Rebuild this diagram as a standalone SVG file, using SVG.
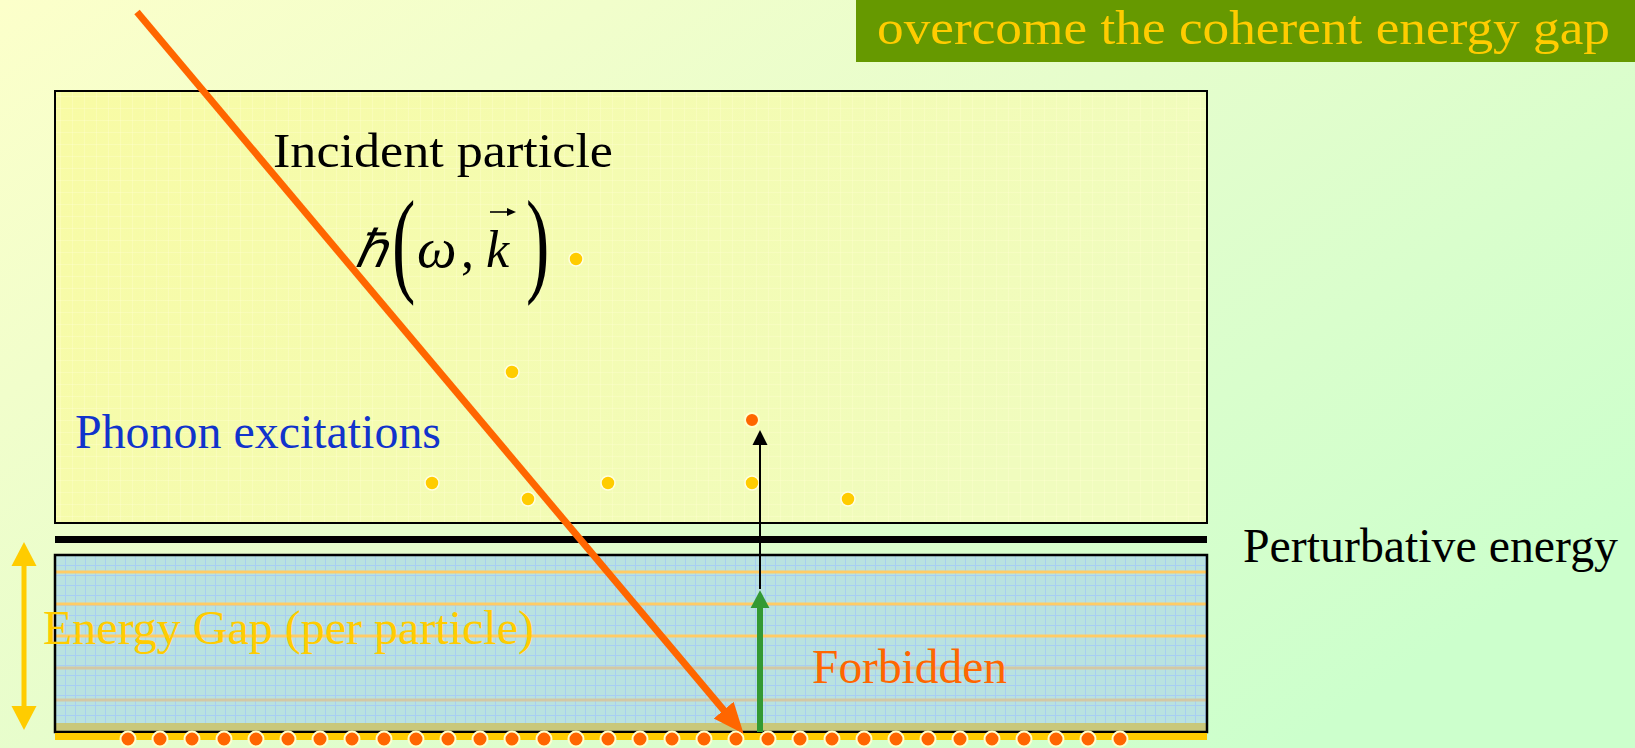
<svg xmlns="http://www.w3.org/2000/svg" width="1635" height="748" viewBox="0 0 1635 748">
<defs>
<linearGradient id="bg" x1="0" y1="0" x2="1" y2="0.7">
<stop offset="0" stop-color="#FCFFCA"/>
<stop offset="0.5" stop-color="#E6FDCC"/>
<stop offset="1" stop-color="#CCFFCC"/>
</linearGradient>
<linearGradient id="topfill" x1="0" y1="0" x2="1" y2="0.3">
<stop offset="0" stop-color="#F8FBA4"/>
<stop offset="1" stop-color="#F0FCBE"/>
</linearGradient>
<pattern id="ygrid" width="12" height="12" patternUnits="userSpaceOnUse">
<path d="M0 0.5H12M0.5 0V12" fill="none" stroke="#FFFFD0" stroke-width="1" opacity="0.35"/>
</pattern>
<pattern id="bgrid" x="55" y="555" width="10" height="10" patternUnits="userSpaceOnUse">
<rect width="10" height="10" fill="#B9E2E0"/>
<path d="M0 0.5H10M0.5 0V10" fill="none" stroke="#A8CEF2" stroke-width="1"/>
</pattern>
<marker id="orangeHead" markerUnits="userSpaceOnUse" markerWidth="32" markerHeight="28" refX="10" refY="13" orient="auto" viewBox="0 0 32 26">
<path d="M0,0 L31,13 L0,26 z" fill="#FF6600"/>
</marker>
<marker id="blackHead" markerUnits="userSpaceOnUse" markerWidth="16" markerHeight="16" refX="2" refY="7.5" orient="auto" viewBox="0 0 16 15">
<path d="M0,0 L15,7.5 L0,15 z" fill="#000"/>
</marker>
<marker id="greenHead" markerUnits="userSpaceOnUse" markerWidth="18" markerHeight="20" refX="3" refY="9" orient="auto" viewBox="0 0 17 18">
<path d="M0,0 L17,9 L0,18 z" fill="#339933"/>
</marker>
<marker id="yHead" markerUnits="userSpaceOnUse" markerWidth="24" markerHeight="26" refX="3" refY="12.5" orient="auto-start-reverse" viewBox="0 0 24 25">
<path d="M0,0 L24,12.5 L0,25 z" fill="#FFCC00"/>
</marker>
</defs>
<style>
text { font-family: "Liberation Serif", "Times New Roman", serif; }
.lbl { font-size: 48px; }
.ydot { fill: #FFCC00; stroke: #FFFFE0; stroke-width: 1.5; }
.odot { fill: #FF6600; stroke: #FFFFCC; stroke-width: 2; }
.gline { stroke: #FFCC66; stroke-width: 3; }
.tline { stroke: #D4C8A4; stroke-width: 3; }
</style>

<rect x="0" y="0" width="1635" height="748" fill="url(#bg)"/>

<g id="banner">
<rect x="856" y="0" width="779" height="62" fill="#669900"/>
<text x="877" y="44" font-size="48" fill="#FFCC00" textLength="733" lengthAdjust="spacingAndGlyphs">overcome the coherent energy gap</text>
</g>

<g id="excitation-region">
<rect x="55" y="91" width="1152" height="432" fill="url(#topfill)"/>
<rect x="55" y="91" width="1152" height="432" fill="url(#ygrid)" stroke="#000" stroke-width="2"/>
<text class="lbl" x="273" y="167" fill="#000" textLength="340" lengthAdjust="spacingAndGlyphs">Incident particle</text>
<text class="lbl" x="75" y="448" fill="#1133CC" textLength="366" lengthAdjust="spacingAndGlyphs">Phonon excitations</text>
</g>

<g id="formula">
<text x="355" y="267" font-size="52" font-style="italic" fill="#000">ℏ</text>
<text transform="translate(392,281) scale(0.6,1)" font-size="117" fill="#000">(</text>
<text x="417" y="267" font-size="56" font-style="italic" fill="#000">ω</text>
<text x="461" y="267" font-size="52" fill="#000">,</text>
<text x="486" y="267" font-size="52" font-style="italic" fill="#000">k</text>
<line x1="490" y1="212" x2="508" y2="212" stroke="#000" stroke-width="1.6"/>
<path d="M507,208 L516,212 L507,216 z" fill="#000"/>
<text transform="translate(526,281) scale(0.6,1)" font-size="117" fill="#000">)</text>
</g>

<g id="phonon-dots">
<circle class="ydot" cx="576" cy="259" r="7"/>
<circle class="ydot" cx="512" cy="372" r="7"/>
<circle class="ydot" cx="432" cy="483" r="7"/>
<circle class="ydot" cx="528" cy="499" r="7"/>
<circle class="ydot" cx="608" cy="483" r="7"/>
<circle class="ydot" cx="752" cy="483" r="7"/>
<circle class="ydot" cx="848" cy="499" r="7"/>
<circle class="odot" cx="752" cy="420" r="7"/>
</g>

<g id="perturbative-line">
<rect x="55" y="536" width="1152" height="7" fill="#000"/>
<text class="lbl" x="1243" y="562" fill="#000" textLength="375" lengthAdjust="spacingAndGlyphs">Perturbative energy</text>
</g>

<g id="gap-region">
<rect x="55" y="555" width="1152" height="177" fill="url(#bgrid)"/>
<line class="gline" x1="55" y1="572" x2="1207" y2="572"/>
<line class="gline" x1="55" y1="604" x2="1207" y2="604"/>
<line class="gline" x1="55" y1="636" x2="1207" y2="636"/>
<line class="tline" x1="55" y1="668" x2="1207" y2="668"/>
<line class="tline" x1="55" y1="700" x2="1207" y2="700"/>
<rect x="55" y="723" width="1152" height="9" fill="#C9C87A"/>
<rect x="55" y="555" width="1152" height="177" fill="none" stroke="#000" stroke-width="2.5"/>
<text class="lbl" x="43" y="644" fill="#FFCC00" textLength="491" lengthAdjust="spacingAndGlyphs">Energy Gap (per particle)</text>
<text class="lbl" x="812" y="683" fill="#FF6600" textLength="195" lengthAdjust="spacingAndGlyphs">Forbidden</text>
</g>

<g id="ground-row">
<rect x="55" y="733" width="1152" height="7" fill="#FFCC00"/>
<circle class="odot" cx="128" cy="739" r="7.5"/>
<circle class="odot" cx="160" cy="739" r="7.5"/>
<circle class="odot" cx="192" cy="739" r="7.5"/>
<circle class="odot" cx="224" cy="739" r="7.5"/>
<circle class="odot" cx="256" cy="739" r="7.5"/>
<circle class="odot" cx="288" cy="739" r="7.5"/>
<circle class="odot" cx="320" cy="739" r="7.5"/>
<circle class="odot" cx="352" cy="739" r="7.5"/>
<circle class="odot" cx="384" cy="739" r="7.5"/>
<circle class="odot" cx="416" cy="739" r="7.5"/>
<circle class="odot" cx="448" cy="739" r="7.5"/>
<circle class="odot" cx="480" cy="739" r="7.5"/>
<circle class="odot" cx="512" cy="739" r="7.5"/>
<circle class="odot" cx="544" cy="739" r="7.5"/>
<circle class="odot" cx="576" cy="739" r="7.5"/>
<circle class="odot" cx="608" cy="739" r="7.5"/>
<circle class="odot" cx="640" cy="739" r="7.5"/>
<circle class="odot" cx="672" cy="739" r="7.5"/>
<circle class="odot" cx="704" cy="739" r="7.5"/>
<circle class="odot" cx="736" cy="739" r="7.5"/>
<circle class="odot" cx="768" cy="739" r="7.5"/>
<circle class="odot" cx="800" cy="739" r="7.5"/>
<circle class="odot" cx="832" cy="739" r="7.5"/>
<circle class="odot" cx="864" cy="739" r="7.5"/>
<circle class="odot" cx="896" cy="739" r="7.5"/>
<circle class="odot" cx="928" cy="739" r="7.5"/>
<circle class="odot" cx="960" cy="739" r="7.5"/>
<circle class="odot" cx="992" cy="739" r="7.5"/>
<circle class="odot" cx="1024" cy="739" r="7.5"/>
<circle class="odot" cx="1056" cy="739" r="7.5"/>
<circle class="odot" cx="1088" cy="739" r="7.5"/>
<circle class="odot" cx="1120" cy="739" r="7.5"/>
</g>

<g id="connectors">
<line x1="24" y1="563" x2="24" y2="709" stroke="#FFCC00" stroke-width="5" marker-start="url(#yHead)" marker-end="url(#yHead)"/>
<line x1="760" y1="589" x2="760" y2="443" stroke="#000" stroke-width="2" marker-end="url(#blackHead)"/>
<line x1="760" y1="732" x2="760" y2="605" stroke="#339933" stroke-width="6" marker-end="url(#greenHead)"/>
<line x1="137" y1="12" x2="730.1" y2="717.7" stroke="#FF6600" stroke-width="7" marker-end="url(#orangeHead)"/>
</g>
</svg>
